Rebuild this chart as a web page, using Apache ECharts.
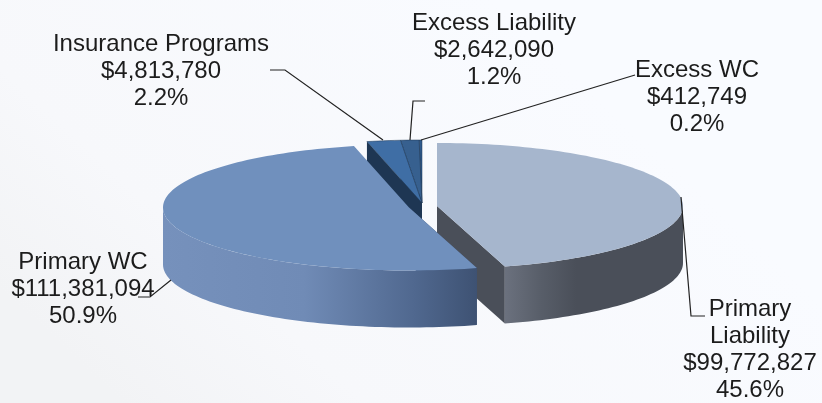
<!DOCTYPE html>
<html>
<head>
<meta charset="utf-8">
<style>html,body{margin:0;padding:0;overflow:hidden}#c{width:822px;height:403px}</style>
<script src="https://cdn.jsdelivr.net/npm/echarts@6/dist/echarts.min.js"></script>
</head>
<body>
<div id="c"></div>
<script>
// Data, clockwise from 12 o'clock
const categories = ['Primary\nLiability', 'Primary WC', 'Insurance Programs', 'Excess Liability', 'Excess WC'];
const premiums = [99772827, 111381094, 4813780, 2642090, 412749];

// Style and layout, separate from the data
const topColors = ['#a6b6cd', '#7090bd', '#3f6ea5', '#37608f', '#2f5a8c'];
const topEdges = [null, null, '#1e3653', '#1e3653', '#1e3653'];
const faceColors = ['#4a4f59', '#3e5273', '#1e3653', '#1e3653', '#1e3653'];
const wallStops = [
  [[0, '#6b717e'], [0.2, '#585e69'], [0.4, '#4a4f59'], [1, '#4a4f59']],
  [[0, '#7691bc'], [0.45, '#708bb6'], [0.8, '#50688f'], [1, '#3e5273']],
  null, null, null
];
const centers = [[437, 206], [409, 207.5], [422, 203], [422, 203], [422, 203]];
const RX = 246, RY = 63, DEPTH = 57;
const labelAnchors = [[750, 296], [83, 249], [161, 31], [494, 10], [697, 57]];
const leaders = [
  [[681, 197], [691, 316], [705, 316]],
  [[138, 297], [150, 297], [171, 280]],
  [[270, 70], [285, 70], [383, 140]],
  [[425, 101], [413, 101], [410, 140]],
  [[635, 75], [421, 140]]
];
const drawOrder = [4, 3, 2, 0, 1];

const total = premiums.reduce((a, b) => a + b, 0);
const spans = []; let run = 0;
premiums.forEach(v => { spans.push([run, run + v / total * 360]); run += v / total * 360; });

function pt(i, deg, drop) {
  const a = deg * Math.PI / 180;
  return [centers[i][0] + RX * Math.sin(a), centers[i][1] - RY * Math.cos(a) + (drop || 0)];
}
function arc(i, from, to, drop) {
  const out = [], n = Math.max(2, Math.ceil(Math.abs(to - from) / 1.5));
  for (let k = 0; k <= n; k++) out.push(pt(i, from + (to - from) * k / n, drop));
  return out;
}
function renderSlice(params, api) {
  const i = api.value(0), s = spans[i][0], e = spans[i][1], c = centers[i];
  const kids = [];
  const radial = (deg) => {
    const p = pt(i, deg);
    kids.push({ type: 'polygon', shape: { points: [c, p, [p[0], p[1] + DEPTH], [c[0], c[1] + DEPTH]] }, style: { fill: faceColors[i] } });
  };
  if (s > 0 && s < 180) radial(s);
  if (e > 0 && e < 180) radial(e);
  if (s > 180 && s < 360) radial(s);
  // outer wall, front half only
  const a = Math.max(s, 90), b = Math.min(e, 270);
  if (b > a && wallStops[i]) {
    const lo = i === 1 ? arc(i, b, a, 0).concat(arc(i, a, b, DEPTH)) : arc(i, a, b, 0).concat(arc(i, b, a, DEPTH));
    kids.push({ type: 'polygon', shape: { points: lo },
      style: { fill: new echarts.graphic.LinearGradient(0, 0, 1, 0, wallStops[i].map(t => ({ offset: t[0], color: t[1] }))) } });
  }
  // top surface
  const topStyle = { fill: topColors[i] };
  if (topEdges[i]) { topStyle.stroke = topEdges[i]; topStyle.lineWidth = 0.5; }
  kids.push({ type: 'polygon', shape: { points: [c].concat(arc(i, s, e, 0)) }, style: topStyle });
  return { type: 'group', children: kids };
}
function renderLabel(params, api) {
  const i = api.value(0);
  const pct = (premiums[i] / total * 100).toFixed(1) + '%';
  const money = '$' + premiums[i].toLocaleString('en-US');
  return { type: 'group', children: [
    { type: 'polyline', shape: { points: leaders[i] }, style: { stroke: '#222', lineWidth: 1.2, fill: null } },
    { type: 'text', x: labelAnchors[i][0], y: labelAnchors[i][1],
      style: { text: categories[i] + '\n' + money + '\n' + pct, fill: '#1c1c1c', align: 'center', verticalAlign: 'top',
        font: '24px "Liberation Sans", Arial, sans-serif', lineHeight: 27 } }
  ] };
}
const chart = echarts.init(document.getElementById('c'), null, { renderer: 'canvas' });
chart.setOption({
  animation: false,
  backgroundColor: new echarts.graphic.LinearGradient(0.15, 1, 0.6, 0, [
    { offset: 0, color: '#f2f3f5' }, { offset: 0.3, color: '#f7f8fb' }, { offset: 1, color: '#f9fbff' }
  ]),
  series: [
    { type: 'custom', coordinateSystem: 'none', silent: true, z: 2, data: drawOrder.map(i => [i, premiums[i]]), renderItem: renderSlice },
    { type: 'custom', coordinateSystem: 'none', silent: true, z: 3, data: categories.map((c, i) => [i, premiums[i]]), renderItem: renderLabel }
  ]
});
</script>
</body>
</html>
